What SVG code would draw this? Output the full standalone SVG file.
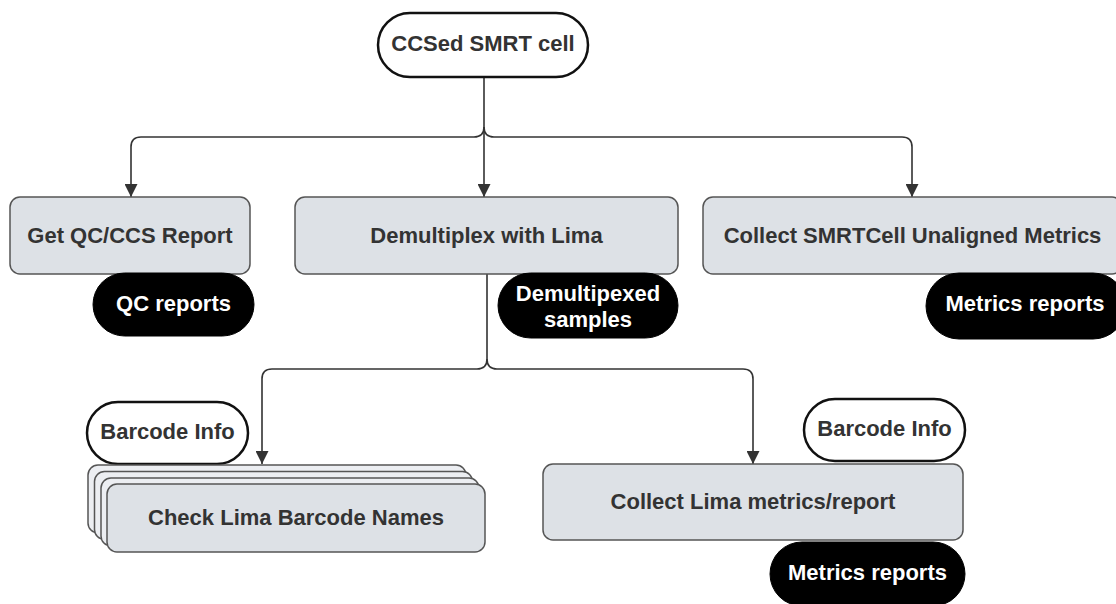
<svg xmlns="http://www.w3.org/2000/svg" width="1116" height="604" viewBox="0 0 1116 604">
<defs>
<style>
.box{fill:#dde1e6;stroke:#555;stroke-width:1.5}
.back{fill:#eceef2;stroke:#555;stroke-width:1.5}
.term{fill:#fff;stroke:#111;stroke-width:2.5}
.data{fill:#000;stroke:#000;stroke-width:1}
.t{font-family:"Liberation Sans",Arial,sans-serif;font-weight:bold;font-size:22px;fill:#333;text-anchor:middle}
.w{fill:#fff}
.c{fill:none;stroke:#333;stroke-width:1.6}
</style>
<marker id="ah" markerUnits="userSpaceOnUse" markerWidth="13" markerHeight="13" viewBox="0 0 12 12" refX="12" refY="6" orient="auto">
<path d="M0,0 L12,6 L0,12 z" fill="#333"/>
</marker>
</defs>
<g id="connectors">
<path class="c" d="M484,77 L484,197" marker-end="url(#ah)"/>
<path class="c" d="M484,127 Q484,137 474,137 L141,137 Q131,137 131,147 L131,197" marker-end="url(#ah)"/>
<path class="c" d="M484,127 Q484,137 494,137 L902,137 Q912,137 912,147 L912,197" marker-end="url(#ah)"/>
<path class="c" d="M487,274 L487,359 Q487,369 477,369 L272,369 Q262,369 262,379 L262,464" marker-end="url(#ah)"/>
<path class="c" d="M487,359 Q487,369 497,369 L743,369 Q753,369 753,379 L753,464" marker-end="url(#ah)"/>
</g>
<g id="ccsed">
<rect class="term" x="378" y="13" width="210" height="64" rx="32"/>
<text class="t" x="483" y="51">CCSed SMRT cell</text>
</g>
<g id="getqc">
<rect class="box" x="10" y="197" width="240" height="77" rx="10"/>
<text class="t" x="130" y="243">Get QC/CCS Report</text>
</g>
<g id="qcreports">
<rect class="data" x="93" y="273" width="161" height="63" rx="31.5"/>
<text class="t w" x="173.5" y="311">QC reports</text>
</g>
<g id="demux">
<rect class="box" x="295" y="197" width="383" height="77" rx="10"/>
<text class="t" x="486.5" y="243">Demultiplex with Lima</text>
</g>
<g id="demuxsamples">
<rect class="data" x="498" y="273" width="180" height="65" rx="32.5"/>
<text class="t w" x="588" y="301">Demultipexed</text>
<text class="t w" x="588" y="327">samples</text>
</g>
<g id="collectsmrt">
<rect class="box" x="703" y="197" width="419" height="77" rx="10"/>
<text class="t" x="912.5" y="243">Collect SMRTCell Unaligned Metrics</text>
</g>
<g id="metrics1">
<rect class="data" x="926" y="273" width="200" height="66" rx="33"/>
<text class="t w" x="1025" y="311">Metrics reports</text>
</g>
<g id="barcode1">
<rect class="term" x="87" y="402" width="161" height="62" rx="31"/>
<text class="t" x="167.5" y="439">Barcode Info</text>
</g>
<g id="checklima">
<rect class="back" x="88" y="465" width="378" height="68" rx="10"/>
<rect class="back" x="94.5" y="471.5" width="378" height="68" rx="10"/>
<rect class="back" x="101" y="478" width="378" height="68" rx="10"/>
<rect class="box" x="107" y="484" width="378" height="68" rx="10"/>
<text class="t" x="296" y="525">Check Lima Barcode Names</text>
</g>
<g id="barcode2">
<rect class="term" x="804" y="399" width="161" height="62" rx="31"/>
<text class="t" x="884.5" y="436">Barcode Info</text>
</g>
<g id="collectlima">
<rect class="box" x="543" y="464" width="420" height="76" rx="10"/>
<text class="t" x="753" y="509">Collect Lima metrics/report</text>
</g>
<g id="metrics2">
<rect class="data" x="770" y="542" width="195" height="64" rx="32"/>
<text class="t w" x="867.5" y="580">Metrics reports</text>
</g>
</svg>
